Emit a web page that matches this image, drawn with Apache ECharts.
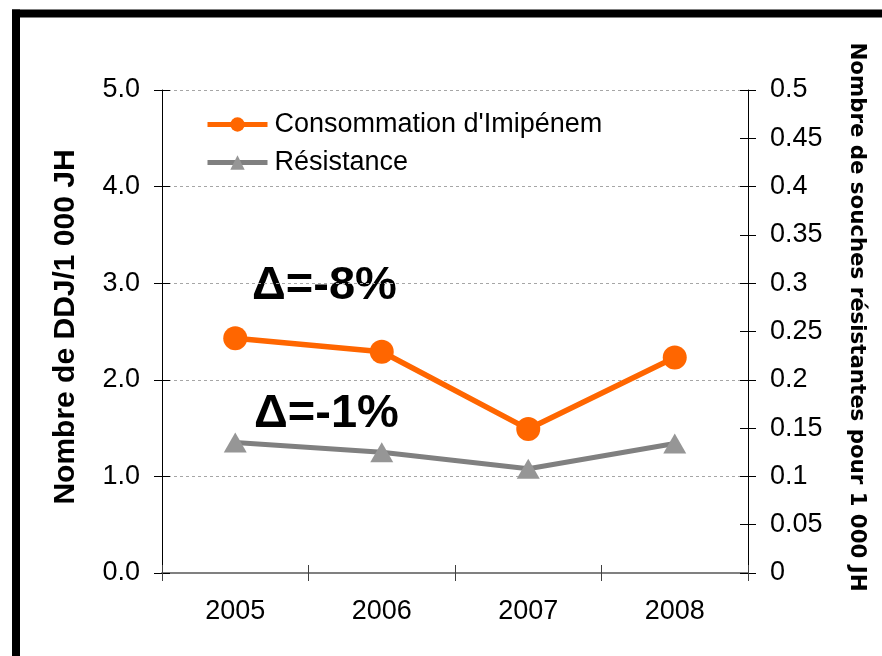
<!DOCTYPE html>
<html>
<head>
<meta charset="utf-8">
<script src="https://cdn.jsdelivr.net/npm/echarts@6/dist/echarts.min.js"></script>
<style>
  html, body { margin: 0; padding: 0; background: #fff; }
  #chart { width: 882px; height: 656px; }
</style>
</head>
<body>
<div id="chart"></div>
<script>
// Years on the category axis
const years = ['2005', '2006', '2007', '2008'];

// Imipenem consumption (DDJ per 1 000 JH), left axis
const consommation = [2.43, 2.29, 1.49, 2.23];

// Resistant strains per 1 000 JH, right axis
const resistance = [0.135, 0.125, 0.108, 0.134];

// Tick labels of both value axes, bottom to top
const leftTickLabels = ['0.0', '1.0', '2.0', '3.0', '4.0', '5.0'];
const rightTickLabels = ['0', '0.05', '0.1', '0.15', '0.2', '0.25', '0.3', '0.35', '0.4', '0.45', '0.5'];

// Series names and change annotations
const seriesNames = ["Consommation d'Imipénem", 'Résistance'];
const deltaLabels = ['\u0394=-8%', '\u0394=-1%'];

const FONT = "'Liberation Sans', Arial, sans-serif";
const ORANGE = '#FF6600';
const GREY_LINE = '#808080';
const GREY_MARK = '#969696';

const chart = echarts.init(document.getElementById('chart'), null, { renderer: 'canvas' });

const grid = { left: 162, right: 134, top: 90, bottom: 83, containLabel: false };

chart.setOption({
  backgroundColor: '#fff',
  animation: false,
  grid: grid,
  legend: {
    orient: 'vertical',
    left: 200,
    top: 106,
    itemWidth: 60,
    itemHeight: 18,
    itemGap: 11,
    data: seriesNames,
    lineStyle: { width: 5 },
    textStyle: { fontFamily: FONT, fontSize: 27, color: '#000', padding: [0, 0, 0, 2] }
  },
  xAxis: [
    {
      type: 'category',
      data: years,
      position: 'bottom',
      boundaryGap: true,
      axisLine: { show: true, lineStyle: { color: GREY_LINE, width: 2 } },
      axisTick: { show: true, inside: false, length: 8, lineStyle: { color: '#404040', width: 1 } },
      axisLabel: { fontFamily: FONT, fontSize: 27, color: '#000', margin: 25 },
      splitLine: { show: false }
    },
    {
      type: 'category',
      data: years,
      position: 'bottom',
      offset: 0,
      boundaryGap: true,
      axisLine: { show: false },
      axisTick: { show: true, inside: true, length: 8, lineStyle: { color: '#404040', width: 1 } },
      axisLabel: { show: false },
      splitLine: { show: false }
    }
  ],
  yAxis: [
    {
      type: 'value',
      position: 'left',
      min: 0, max: 5, interval: 1,
      axisLine: { show: true, lineStyle: { color: '#000', width: 1 } },
      axisTick: { show: true, inside: false, length: 8, lineStyle: { color: '#000', width: 1 } },
      axisLabel: {
        fontFamily: FONT, fontSize: 27, color: '#000', margin: 22,
        formatter: (v, i) => leftTickLabels[i]
      },
      splitLine: { show: true, lineStyle: { color: '#A6A6A6', width: 1, type: [3, 3] } }
    },
    {
      type: 'value',
      position: 'right',
      min: 0, max: 0.5, interval: 0.05,
      axisLine: { show: true, lineStyle: { color: '#000', width: 1 } },
      axisTick: { show: true, inside: false, length: 8, lineStyle: { color: '#000', width: 1 } },
      axisLabel: {
        fontFamily: FONT, fontSize: 27, color: '#000', margin: 22,
        formatter: (v, i) => rightTickLabels[i]
      },
      splitLine: { show: false }
    },
    {
      type: 'value',
      position: 'left',
      offset: 0,
      min: 0, max: 5, interval: 1,
      axisLine: { show: false },
      axisTick: { show: true, inside: true, length: 8, lineStyle: { color: '#000', width: 1 } },
      axisLabel: { show: false },
      splitLine: { show: false }
    },
    {
      type: 'value',
      position: 'right',
      offset: 0,
      min: 0, max: 0.5, interval: 0.05,
      axisLine: { show: false },
      axisTick: { show: true, inside: true, length: 8, lineStyle: { color: '#000', width: 1 } },
      axisLabel: { show: false },
      splitLine: { show: false }
    }
  ],
  series: [
    {
      name: seriesNames[0],
      type: 'line',
      yAxisIndex: 0,
      data: consommation,
      symbol: 'circle',
      symbolSize: 24,
      lineStyle: { color: ORANGE, width: 5.5 },
      itemStyle: { color: ORANGE },
      z: 3
    },
    {
      name: seriesNames[1],
      type: 'line',
      yAxisIndex: 1,
      data: resistance,
      symbol: 'triangle',
      symbolSize: [23, 20],
      lineStyle: { color: GREY_LINE, width: 5 },
      itemStyle: { color: GREY_MARK },
      z: 2
    }
  ],
  graphic: [
    // black frame along the top and left edges
    { type: 'rect', shape: { x: 12, y: 9.5, width: 870, height: 8 }, style: { fill: '#000' }, silent: true },
    { type: 'rect', shape: { x: 12, y: 9.5, width: 8, height: 647 }, style: { fill: '#000' }, silent: true },
    // axis titles
    {
      type: 'text', x: 66, y: 327, rotation: Math.PI / 2,
      style: {
        text: 'Nombre de DDJ/1 000 JH', font: "bold 30px " + FONT,
        fill: '#000', align: 'center', verticalAlign: 'middle'
      }
    },
    {
      type: 'text', x: 857, y: 317, rotation: -Math.PI / 2,
      style: {
        text: 'Nombre de souches résistantes pour 1 000 JH', font: "bold 21.3px 'DejaVu Sans', sans-serif",
        fill: '#000', align: 'center', verticalAlign: 'middle'
      }
    },
    // change annotations
    {
      type: 'text', x: 252, y: 286,
      style: { text: deltaLabels[0], font: "bold 47px " + FONT, fill: '#000', align: 'left', verticalAlign: 'middle' }
    },
    {
      type: 'text', x: 254, y: 414,
      style: { text: deltaLabels[1], font: "bold 47px " + FONT, fill: '#000', align: 'left', verticalAlign: 'middle' }
    }
  ]
});
</script>
</body>
</html>
